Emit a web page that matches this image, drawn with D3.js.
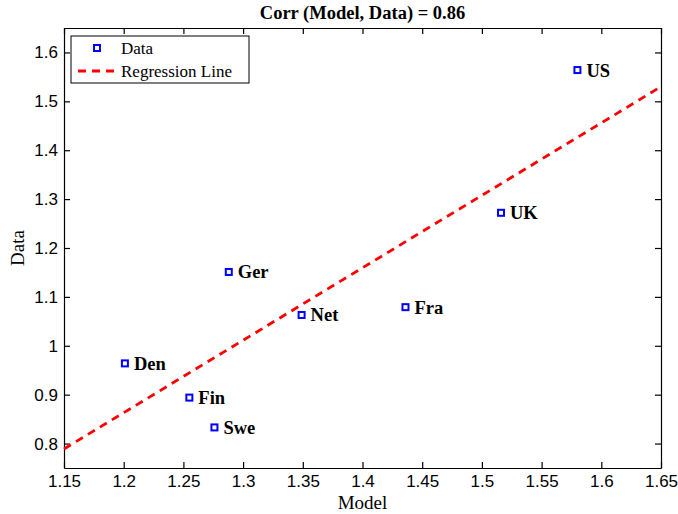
<!DOCTYPE html>
<html lang="en">
<head>
<meta charset="UTF-8">
<title>Corr (Model, Data)</title>
<script src="https://d3js.org/d3.v7.min.js"></script>
<style>
    body { margin: 0; background: #fff; }
    svg { display: block; font-family: "Liberation Serif", "Times New Roman", serif; }
    .axis text { font-size: 17px; fill: #000; }
    .axis path, .axis line { stroke: #000; stroke-width: 1.2px; }
    .axis-label { font-size: 19px; fill: #000; }
    .title { font-size: 18.5px; font-weight: bold; fill: #000; }
    .pt-label { font-size: 18.5px; font-weight: bold; fill: #000; }
    .legend text { font-size: 17px; fill: #000; }
</style>
</head>
<body>
<div id="chart"></div>
<script>
    // --- Data ---
    const countries = ["US", "UK", "Fra", "Net", "Ger", "Den", "Fin", "Swe"];
    const modelValues = [1.580, 1.516, 1.436, 1.349, 1.288, 1.201, 1.255, 1.276];
    const dataValues = [1.564, 1.272, 1.079, 1.063, 1.151, 0.964, 0.894, 0.833];
    const regressionX = [1.15, 1.65];
    const regressionY = [0.789, 1.530];
    const xTicks = [1.15, 1.2, 1.25, 1.3, 1.35, 1.4, 1.45, 1.5, 1.55, 1.6, 1.65];
    const yTicks = [0.8, 0.9, 1, 1.1, 1.2, 1.3, 1.4, 1.5, 1.6];
    const titleText = "Corr (Model, Data) = 0.86";

    const W = 678, H = 514;
    const margin = {top: 28, right: 17, bottom: 46, left: 64};
    const width = W - margin.left - margin.right,
          height = H - margin.top - margin.bottom;

    const svg = d3.select("#chart").append("svg").attr("width", W).attr("height", H);
    const g = svg.append("g").attr("transform", `translate(${margin.left},${margin.top})`);

    const x = d3.scaleLinear().domain([1.15, 1.65]).range([0, width]);
    const y = d3.scaleLinear().domain([0.75, 1.65]).range([height, 0]);
    const fmt = d => String(+d.toFixed(2));

    // Axes, ticks pointing inward on all four sides
    g.append("g").attr("class", "axis").attr("transform", `translate(0,${height})`)
        .call(d3.axisBottom(x).tickValues(xTicks).tickSize(-6).tickPadding(7).tickFormat(fmt).tickSizeOuter(0));
    g.append("g").attr("class", "axis")
        .call(d3.axisTop(x).tickValues(xTicks).tickSize(-6).tickFormat("").tickSizeOuter(0));
    g.append("g").attr("class", "axis")
        .call(d3.axisLeft(y).tickValues(yTicks).tickSize(-6).tickPadding(6).tickFormat(fmt).tickSizeOuter(0));
    g.append("g").attr("class", "axis").attr("transform", `translate(${width},0)`)
        .call(d3.axisRight(y).tickValues(yTicks).tickSize(-6).tickFormat("").tickSizeOuter(0));

    // Regression line
    const line = d3.line().x(d => x(d[0])).y(d => y(d[1]));
    g.append("path")
        .datum(regressionX.map((v, i) => [v, regressionY[i]]))
        .attr("d", line)
        .attr("fill", "none").attr("stroke", "#ff0000")
        .attr("stroke-width", 2.8).attr("stroke-dasharray", "8,6");

    // Points
    const pts = countries.map((c, i) => ({name: c, mx: modelValues[i], dy: dataValues[i]}));
    const s = 6;
    g.selectAll("rect.pt").data(pts).join("rect").attr("class", "pt")
        .attr("x", d => x(d.mx) - s / 2).attr("y", d => y(d.dy) - s / 2)
        .attr("width", s).attr("height", s)
        .attr("fill", "#fff").attr("stroke", "#0000ff").attr("stroke-width", 2);
    g.selectAll("text.pt-label").data(pts).join("text").attr("class", "pt-label")
        .attr("x", d => x(d.mx) + 9).attr("y", d => y(d.dy)).attr("dy", "0.35em")
        .text(d => d.name);

    // Title and axis labels
    svg.append("text").attr("class", "title").attr("text-anchor", "middle")
        .attr("x", margin.left + width / 2).attr("y", 19).text(titleText);
    svg.append("text").attr("class", "axis-label").attr("text-anchor", "middle")
        .attr("x", margin.left + width / 2).attr("y", H - 5).text("Model");
    svg.append("text").attr("class", "axis-label").attr("text-anchor", "middle")
        .attr("transform", `translate(24,${margin.top + height / 2}) rotate(-90)`).text("Data");

    // Legend
    const lg = g.append("g").attr("class", "legend").attr("transform", "translate(7,8)");
    lg.append("rect").attr("width", 178).attr("height", 47)
        .attr("fill", "#fff").attr("stroke", "#000").attr("stroke-width", 1);
    lg.append("rect").attr("x", 26 - s / 2).attr("y", 12 - s / 2).attr("width", s).attr("height", s)
        .attr("fill", "#fff").attr("stroke", "#0000ff").attr("stroke-width", 2);
    lg.append("text").attr("x", 50).attr("y", 12).attr("dy", "0.35em").text("Data");
    lg.append("line").attr("x1", 7).attr("x2", 47).attr("y1", 35).attr("y2", 35)
        .attr("stroke", "#ff0000").attr("stroke-width", 2.8).attr("stroke-dasharray", "8,6");
    lg.append("text").attr("x", 50).attr("y", 35).attr("dy", "0.35em").text("Regression Line");
</script>
</body>
</html>
